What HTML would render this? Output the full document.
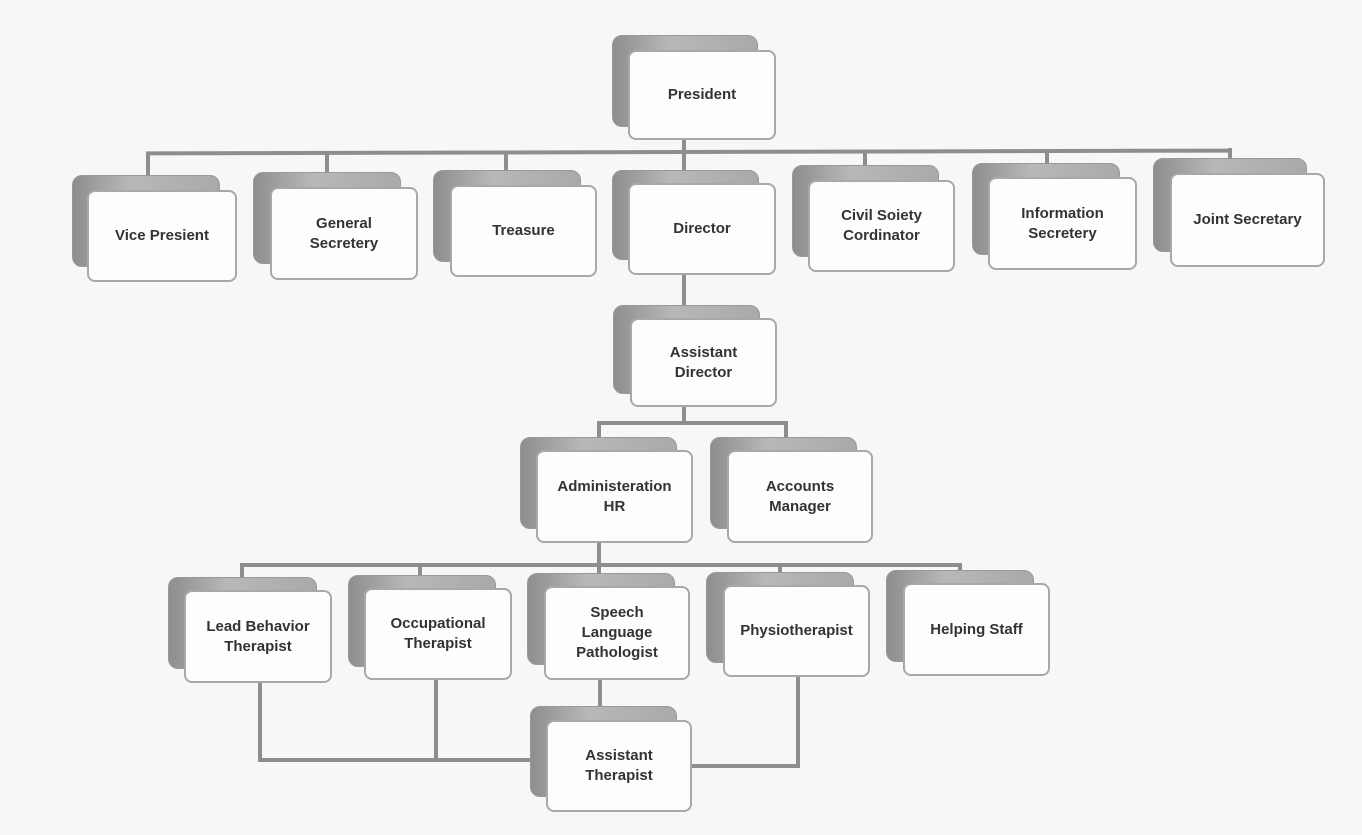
<!DOCTYPE html>
<html><head><meta charset="utf-8"><style>
html,body{margin:0;padding:0}
body{width:1362px;height:835px;background:#f7f7f9;position:relative;overflow:hidden;font-family:"Liberation Sans",sans-serif}
.b{position:absolute;border-radius:10px;background:linear-gradient(90deg,#8e8e8e,#b8b8b8 40%,#a9a9a9);border:1px solid #999}
.f{position:absolute;border-radius:8px;background:#fdfdfd;border:2px solid #a8a8a8;box-sizing:border-box;display:flex;align-items:center;justify-content:center;text-align:center;font-size:15px;font-weight:bold;color:#333;line-height:20px}
.l{position:absolute;background:#8e8e8e}
</style></head><body>
<!-- connectors -->
<div class="l" style="left:682px;top:138px;width:4px;height:16px"></div>
<div class="l" style="left:146px;top:150px;width:1086px;height:4px;transform:rotate(-0.15deg)"></div>
<div class="l" style="left:146px;top:152px;width:4px;height:25px"></div>
<div class="l" style="left:325px;top:152px;width:4px;height:22px"></div>
<div class="l" style="left:504px;top:152px;width:4px;height:20px"></div>
<div class="l" style="left:682px;top:152px;width:4px;height:20px"></div>
<div class="l" style="left:863px;top:150px;width:4px;height:18px"></div>
<div class="l" style="left:1045px;top:150px;width:4px;height:16px"></div>
<div class="l" style="left:1228px;top:148px;width:4px;height:14px"></div>
<div class="l" style="left:682px;top:274px;width:4px;height:34px"></div>
<div class="l" style="left:682px;top:405px;width:4px;height:18px"></div>
<div class="l" style="left:597px;top:421px;width:190px;height:4px"></div>
<div class="l" style="left:597px;top:421px;width:4px;height:20px"></div>
<div class="l" style="left:784px;top:421px;width:4px;height:20px"></div>
<div class="l" style="left:597px;top:541px;width:4px;height:25px"></div>
<div class="l" style="left:240px;top:563px;width:722px;height:4px"></div>
<div class="l" style="left:240px;top:563px;width:4px;height:17px"></div>
<div class="l" style="left:418px;top:563px;width:4px;height:15px"></div>
<div class="l" style="left:597px;top:563px;width:4px;height:14px"></div>
<div class="l" style="left:778px;top:563px;width:4px;height:12px"></div>
<div class="l" style="left:958px;top:563px;width:4px;height:10px"></div>
<div class="l" style="left:258px;top:681px;width:4px;height:81px"></div>
<div class="l" style="left:258px;top:758px;width:275px;height:4px"></div>
<div class="l" style="left:434px;top:678px;width:4px;height:82px"></div>
<div class="l" style="left:598px;top:678px;width:4px;height:30px"></div>
<div class="l" style="left:796px;top:675px;width:4px;height:92px"></div>
<div class="l" style="left:690px;top:764px;width:110px;height:4px"></div>

<!-- boxes -->
<div class="b" style="left:612px;top:35px;width:144px;height:90px"></div>
<div class="f" style="left:628px;top:50px;width:148px;height:90px">President</div>

<div class="b" style="left:72px;top:175px;width:146px;height:90px"></div>
<div class="f" style="left:87px;top:190px;width:150px;height:92px">Vice Presient</div>
<div class="b" style="left:253px;top:172px;width:146px;height:90px"></div>
<div class="f" style="left:270px;top:187px;width:148px;height:93px">General<br>Secretery</div>
<div class="b" style="left:433px;top:170px;width:146px;height:90px"></div>
<div class="f" style="left:450px;top:185px;width:147px;height:92px">Treasure</div>
<div class="b" style="left:612px;top:170px;width:145px;height:88px"></div>
<div class="f" style="left:628px;top:183px;width:148px;height:92px">Director</div>
<div class="b" style="left:792px;top:165px;width:145px;height:90px"></div>
<div class="f" style="left:808px;top:180px;width:147px;height:92px">Civil Soiety<br>Cordinator</div>
<div class="b" style="left:972px;top:163px;width:146px;height:90px"></div>
<div class="f" style="left:988px;top:177px;width:149px;height:93px">Information<br>Secretery</div>
<div class="b" style="left:1153px;top:158px;width:152px;height:92px"></div>
<div class="f" style="left:1170px;top:173px;width:155px;height:94px">Joint Secretary</div>

<div class="b" style="left:613px;top:305px;width:145px;height:87px"></div>
<div class="f" style="left:630px;top:318px;width:147px;height:89px">Assistant<br>Director</div>

<div class="b" style="left:520px;top:437px;width:155px;height:90px"></div>
<div class="f" style="left:536px;top:450px;width:157px;height:93px">Administeration<br>HR</div>
<div class="b" style="left:710px;top:437px;width:145px;height:90px"></div>
<div class="f" style="left:727px;top:450px;width:146px;height:93px">Accounts<br>Manager</div>

<div class="b" style="left:168px;top:577px;width:147px;height:90px"></div>
<div class="f" style="left:184px;top:590px;width:148px;height:93px">Lead Behavior<br>Therapist</div>
<div class="b" style="left:348px;top:575px;width:146px;height:90px"></div>
<div class="f" style="left:364px;top:588px;width:148px;height:92px">Occupational<br>Therapist</div>
<div class="b" style="left:527px;top:573px;width:146px;height:90px"></div>
<div class="f" style="left:544px;top:586px;width:146px;height:94px">Speech<br>Language<br>Pathologist</div>
<div class="b" style="left:706px;top:572px;width:146px;height:89px"></div>
<div class="f" style="left:723px;top:585px;width:147px;height:92px">Physiotherapist</div>
<div class="b" style="left:886px;top:570px;width:146px;height:90px"></div>
<div class="f" style="left:903px;top:583px;width:147px;height:93px">Helping Staff</div>

<div class="b" style="left:530px;top:706px;width:145px;height:89px"></div>
<div class="f" style="left:546px;top:720px;width:146px;height:92px">Assistant<br>Therapist</div>
</body></html>
